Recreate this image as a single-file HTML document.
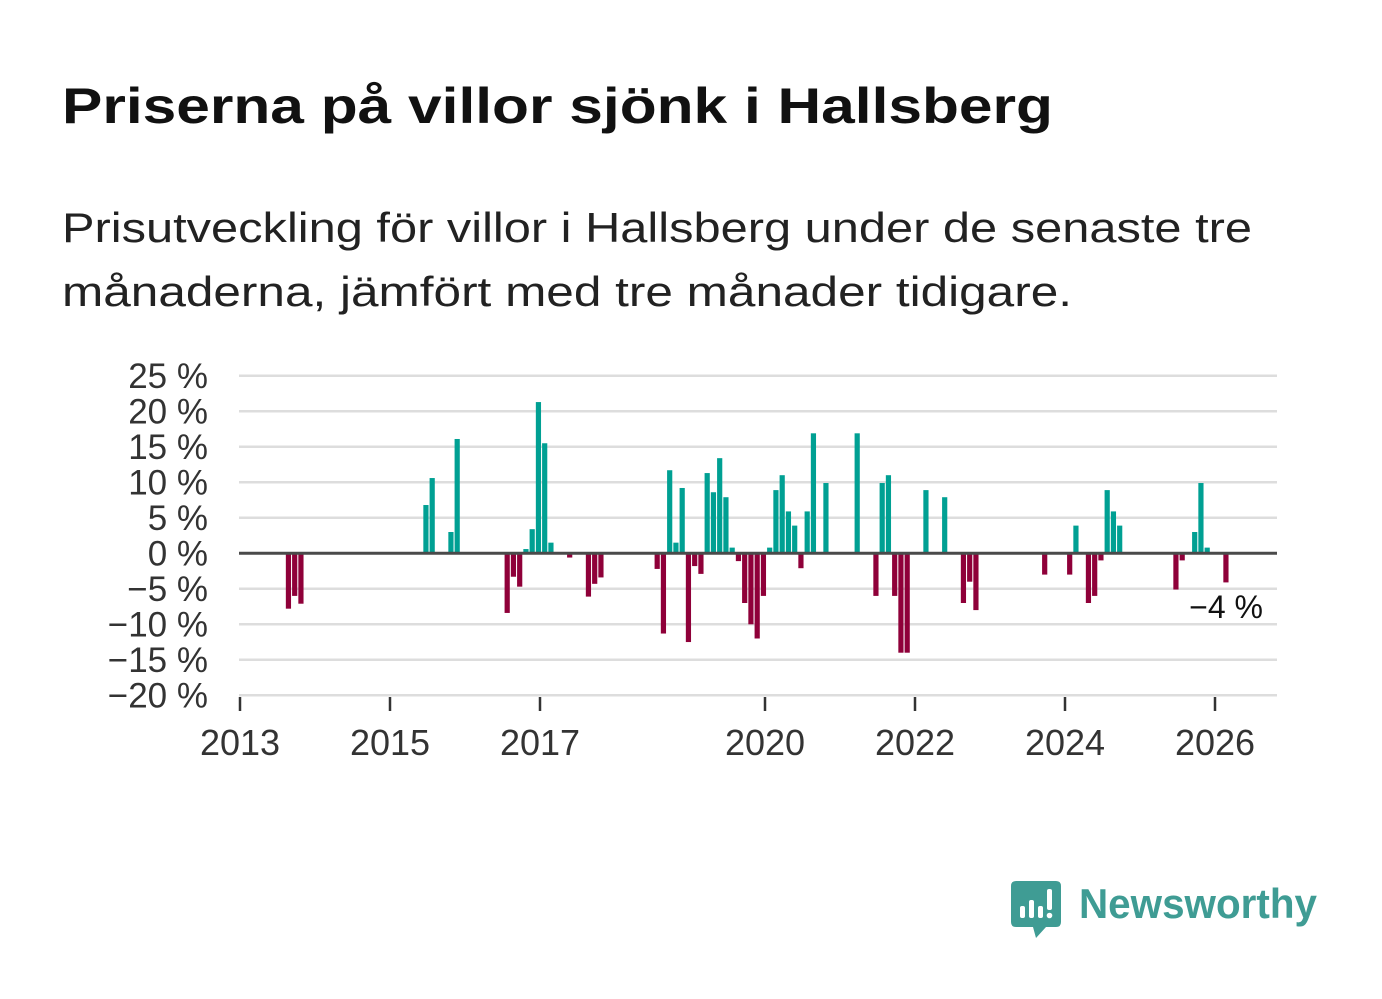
<!DOCTYPE html>
<html><head><meta charset="utf-8"><style>
body{margin:0;background:#fff;}
svg{display:block;font-family:"Liberation Sans",sans-serif;}
</style></head><body>
<svg id="chart" width="1382" height="999" viewBox="0 0 1382 999">
<text x="62" y="123" font-size="50" font-weight="bold" fill="#111" textLength="991" lengthAdjust="spacingAndGlyphs">Priserna på villor sjönk i Hallsberg</text>
<text x="62" y="242" font-size="42" fill="#222" textLength="1190" lengthAdjust="spacingAndGlyphs">Prisutveckling för villor i Hallsberg under de senaste tre</text>
<text x="62" y="306" font-size="42" fill="#222" textLength="1010" lengthAdjust="spacingAndGlyphs">månaderna, jämfört med tre månader tidigare.</text>
<g id="grid"></g>
<g id="bars"></g>
<g id="axes"></g>
<text x="1263" y="618" font-size="32" fill="#111" text-anchor="end" stroke="#fff" stroke-width="6" paint-order="stroke">−4 %</text>
<g>
<path d="M1016 881 H1056 Q1061 881 1061 886 V922 Q1061 927 1056 927 H1046 L1036 938 L1033 927 H1016 Q1011 927 1011 922 V886 Q1011 881 1016 881 Z" fill="#3f9c94"/>
<rect x="1020" y="906" width="5" height="12" rx="2" fill="#fff"/>
<rect x="1029" y="900" width="5" height="18" rx="2" fill="#fff"/>
<rect x="1038" y="906" width="5" height="12" rx="2" fill="#fff"/>
<rect x="1047" y="889" width="5" height="21" rx="2" fill="#fff"/>
<circle cx="1049.5" cy="915.5" r="2.8" fill="#fff"/>
<text x="1079" y="918" font-size="42" font-weight="bold" fill="#3f9c94" textLength="238" lengthAdjust="spacingAndGlyphs">Newsworthy</text>
</g>
</svg>
<script>
const months = [7,8,9,29,30,33,34,42,43,44,45,46,47,48,49,52,55,56,57,66,67,68,69,70,71,72,73,74,75,76,77,78,79,80,81,82,83,84,85,86,87,88,89,90,91,93,98,101,102,103,104,105,106,109,112,115,116,117,128,132,133,135,136,137,138,139,140,149,150,152,153,154,157];
const values = [-7.8,-6.0,-7.1,6.8,10.6,3.0,16.1,-8.4,-3.3,-4.7,0.6,3.4,21.3,15.5,1.5,-0.6,-6.1,-4.3,-3.4,-2.2,-11.3,11.7,1.5,9.2,-12.5,-1.8,-2.9,11.3,8.6,13.4,7.9,0.8,-1.1,-7.0,-10.0,-12.0,-6.0,0.8,8.9,11.0,5.9,3.9,-2.1,5.9,16.9,9.9,16.9,-6.0,9.9,11.0,-6.0,-14.0,-14.0,8.9,7.9,-7.0,-4.0,-8.0,-3.0,-3.0,3.9,-7.0,-6.0,-1.0,8.9,5.9,3.9,-5.1,-1.0,3.0,9.9,0.8,-4.1];
const yTicks = [25,20,15,10,5,0,-5,-10,-15,-20];
const yTickLabels = ["25 %","20 %","15 %","10 %","5 %","0 %","−5 %","−10 %","−15 %","−20 %"];
const xTickYears = [2013,2015,2017,2020,2022,2024,2026];

const NS="http://www.w3.org/2000/svg";
function y(v){return 553.3 - v*7.1;}
function xMonth(m){return 240 + 6.25*(m+0.75);}
function xYear(yr){return 240 + 75*(yr-2013);}
function mk(tag,attrs,parent){const e=document.createElementNS(NS,tag);for(const k in attrs)e.setAttribute(k,attrs[k]);parent.appendChild(e);return e;}
const grid=document.getElementById('grid'),bars=document.getElementById('bars'),axes=document.getElementById('axes');
yTicks.forEach((t,i)=>{
  if(t!==0){const l=mk('line',{x1:239,x2:1277,y1:y(t),y2:y(t),stroke:'#dddddd','stroke-width':2.5},grid);
  
  }
  const tx=mk('text',{x:208,y:y(t)+12,'font-size':35,'text-anchor':'end',fill:'#333'},axes);
  tx.textContent=yTickLabels[i];
  
  
});
months.forEach((m,i)=>{
  const v=values[i];const cx=xMonth(m);
  const r=mk('rect',{x:cx-2.6,width:5.2,y:Math.min(y(v),y(0)),height:Math.abs(y(v)-y(0)),fill:v>=0?'#00a093':'#8f0039'},bars);
  
  
});
const zl=mk('line',{x1:239,x2:1277,y1:y(0),y2:y(0),stroke:'#4a4a4a','stroke-width':3},axes);


xTickYears.forEach(yr=>{
  const t=mk('line',{x1:xYear(yr),x2:xYear(yr),y1:697,y2:711,stroke:'#333','stroke-width':2.5},axes);
  
  
  const tx=mk('text',{x:xYear(yr),y:755,'font-size':36,'text-anchor':'middle',fill:'#333'},axes);
  tx.textContent=yr;
  
  
});
</script>
</body></html>
